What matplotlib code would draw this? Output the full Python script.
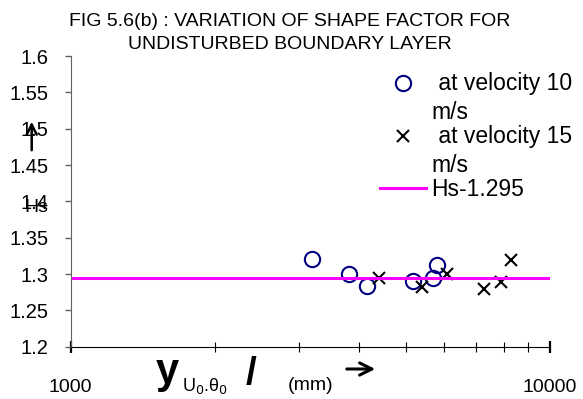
import matplotlib
matplotlib.use("Agg")
import matplotlib.pyplot as plt
from matplotlib.legend_handler import HandlerLine2D
from matplotlib.ticker import FixedLocator, FixedFormatter, NullFormatter

plt.rcParams['font.family'] = ['Liberation Sans', 'DejaVu Sans']

# shape factor readings (x in mm, log axis)
x_10 = [3190, 3800, 4150, 5170, 5690, 5820]
hs_10 = [1.320, 1.300, 1.283, 1.290, 1.295, 1.312]
x_15 = [4400, 5410, 6090, 7280, 7890, 8300]
hs_15 = [1.294, 1.282, 1.300, 1.279, 1.289, 1.319]
hs_mean = 1.295

label_10 = ' at velocity 10\nm/s'
label_15 = ' at velocity 15\nm/s'
label_mean = 'Hs-1.295'

x_major = [1000, 10000]
x_major_labels = ['1000', '10000']
x_minor = [2000, 3000, 4000, 5000, 6000, 7000, 8000, 9000]
y_ticks = [1.2, 1.25, 1.3, 1.35, 1.4, 1.45, 1.5, 1.55, 1.6]
y_tick_labels = ['1.2', '1.25', '1.3', '1.35', '1.4', '1.45', '1.5', '1.55', '1.6']

W, H = 583, 399


class FirstLineHandler(HandlerLine2D):
    # excel keeps the key level with the first line of a wrapped label
    def __init__(self, lift, **kw):
        super().__init__(**kw)
        self.lift = lift

    def create_artists(self, legend, orig_handle, xdescent, ydescent,
                       width, height, fontsize, trans):
        return super().create_artists(legend, orig_handle, xdescent,
                                      ydescent - 2 * self.lift, width, height,
                                      fontsize, trans)


fig = plt.figure(figsize=(W / 100, H / 100), dpi=100)
ax = fig.add_axes([70.7 / W, 1 - 346.7 / H, (550 - 70.7) / W, (346.7 - 56) / H])

circ, = ax.plot(x_10, hs_10, 'o', ms=11, mfc='none', mec='#000080', mew=1.5, label=label_10)
cross, = ax.plot(x_15, hs_15, 'x', ms=9, color='black', mew=1.5, label=label_15)
mean_line = ax.axhline(hs_mean, color='#ff00ff', lw=2.2, label=label_mean)

ax.set_xscale('log')
ax.set_xlim(1000, 10000)
ax.set_ylim(1.2, 1.6)

ax.xaxis.set_major_locator(FixedLocator(x_major))
ax.xaxis.set_major_formatter(FixedFormatter(x_major_labels))
ax.xaxis.set_minor_locator(FixedLocator(x_minor))
ax.xaxis.set_minor_formatter(NullFormatter())
ax.set_yticks(y_ticks)
ax.set_yticklabels(y_tick_labels)

ax.tick_params(axis='x', which='major', direction='inout', length=9, width=1.6, pad=19, labelsize=14)
ax.tick_params(axis='x', which='minor', direction='inout', length=6.5, width=0.8)
ax.tick_params(axis='y', direction='out', length=4, width=1, color='#606060', pad=12, labelsize=14.5)

for s in ['top', 'right']:
    ax.spines[s].set_visible(False)
ax.spines['left'].set_color('#606060')
ax.spines['bottom'].set_color('black')

leg = ax.legend(handles=[circ, cross, mean_line], loc='upper left',
                bbox_to_anchor=(380 / W, 1 - 72 / H), bbox_transform=fig.transFigure,
                frameon=False, borderpad=0, borderaxespad=0, fontsize=16.5,
                handlelength=2.0, handletextpad=0.25, labelspacing=0.05,
                handler_map={circ: FirstLineHandler(11.5), cross: FirstLineHandler(11.5)})
for t in leg.get_texts():
    t.set_linespacing(1.32)

fig.text(290 / W, 1 - 33 / H, 'FIG 5.6(b) : VARIATION OF SHAPE FACTOR FOR\nUNDISTURBED BOUNDARY LAYER',
         ha='center', va='center', fontsize=14, linespacing=1.5)

# y-axis label: Hs with an up arrow
fig.text(36 / W, 1 - 207 / H, 'Hs', ha='center', va='center', fontsize=14)
ax.annotate('', xy=(31.7, H - 119), xytext=(31.7, H - 153), xycoords='figure pixels',
            textcoords='figure pixels', arrowprops=dict(arrowstyle='->', lw=1.8, mutation_scale=18))

# x-axis label pieces
fig.text(167 / W, 1 - 372 / H, 'y', ha='center', va='center', fontsize=30, fontweight='bold')
fig.text(182 / W, 1 - 391 / H, 'U$_0$.θ$_0$', ha='left', va='baseline', fontsize=13)
fig.text(251 / W, 1 - 374 / H, '/', ha='center', va='center', fontsize=28, fontweight='bold')
fig.text(311 / W, 1 - 385 / H, '(mm)', ha='center', va='center', fontsize=14)
ax.annotate('', xy=(378, H - 369), xytext=(344, H - 369), xycoords='figure pixels',
            textcoords='figure pixels', arrowprops=dict(arrowstyle='->', lw=2.2, mutation_scale=22))

fig.savefig('out.png', dpi=100)
